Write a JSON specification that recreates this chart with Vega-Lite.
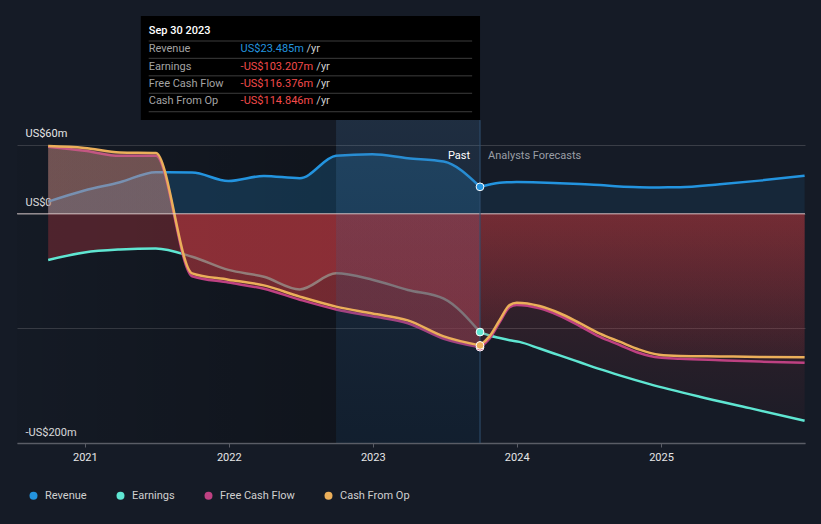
{
  "$schema": "https://vega.github.io/schema/vega-lite/v6.json",
  "width": 788,
  "height": 435,
  "autosize": {"type": "none"},
  "padding": {"left": 17, "top": 8, "right": 16, "bottom": 81},
  "background": "#151b26",
  "config": {"view": {"stroke": null}, "font": "Roboto"},
  "datasets": {
    "main": [
      {"series": "Revenue", "phase": "past", "date": "2020-09-30", "value": 10.6},
      {"series": "Revenue", "phase": "past", "date": "2020-12-31", "value": 20.3},
      {"series": "Revenue", "phase": "past", "date": "2021-03-31", "value": 27.5},
      {"series": "Revenue", "phase": "past", "date": "2021-06-30", "value": 36.2},
      {"series": "Revenue", "phase": "past", "date": "2021-09-30", "value": 36.0},
      {"series": "Revenue", "phase": "past", "date": "2021-12-31", "value": 28.6},
      {"series": "Revenue", "phase": "past", "date": "2022-03-31", "value": 33.0},
      {"series": "Revenue", "phase": "past", "date": "2022-06-30", "value": 31.0},
      {"series": "Revenue", "phase": "past", "date": "2022-09-30", "value": 50.5},
      {"series": "Revenue", "phase": "past", "date": "2022-12-31", "value": 52.0},
      {"series": "Revenue", "phase": "past", "date": "2023-03-31", "value": 48.5},
      {"series": "Revenue", "phase": "past", "date": "2023-06-30", "value": 45.5},
      {"series": "Revenue", "phase": "past", "date": "2023-09-30", "value": 23.485},
      {"series": "Revenue", "phase": "forecast", "date": "2023-09-30", "value": 23.485},
      {"series": "Revenue", "phase": "forecast", "date": "2023-10-24", "value": 25.5},
      {"series": "Revenue", "phase": "forecast", "date": "2023-11-19", "value": 27.1},
      {"series": "Revenue", "phase": "forecast", "date": "2023-12-14", "value": 27.5},
      {"series": "Revenue", "phase": "forecast", "date": "2024-01-01", "value": 27.7},
      {"series": "Revenue", "phase": "forecast", "date": "2024-02-28", "value": 27.3},
      {"series": "Revenue", "phase": "forecast", "date": "2024-04-19", "value": 26.6},
      {"series": "Revenue", "phase": "forecast", "date": "2024-06-09", "value": 25.9},
      {"series": "Revenue", "phase": "forecast", "date": "2024-07-30", "value": 25.1},
      {"series": "Revenue", "phase": "forecast", "date": "2024-09-18", "value": 23.8},
      {"series": "Revenue", "phase": "forecast", "date": "2024-11-07", "value": 23.2},
      {"series": "Revenue", "phase": "forecast", "date": "2024-12-27", "value": 23.0},
      {"series": "Revenue", "phase": "forecast", "date": "2025-02-18", "value": 23.1},
      {"series": "Revenue", "phase": "forecast", "date": "2025-05-30", "value": 25.7},
      {"series": "Revenue", "phase": "forecast", "date": "2025-09-08", "value": 28.9},
      {"series": "Revenue", "phase": "forecast", "date": "2025-12-31", "value": 33.2},

      {"series": "Earnings", "phase": "past", "date": "2020-09-30", "value": -40.3},
      {"series": "Earnings", "phase": "past", "date": "2020-12-31", "value": -33.8},
      {"series": "Earnings", "phase": "past", "date": "2021-03-31", "value": -31.2},
      {"series": "Earnings", "phase": "past", "date": "2021-06-30", "value": -30.3},
      {"series": "Earnings", "phase": "past", "date": "2021-09-30", "value": -37.5},
      {"series": "Earnings", "phase": "past", "date": "2021-12-31", "value": -49.0},
      {"series": "Earnings", "phase": "past", "date": "2022-03-31", "value": -55.0},
      {"series": "Earnings", "phase": "past", "date": "2022-06-30", "value": -66.0},
      {"series": "Earnings", "phase": "past", "date": "2022-09-30", "value": -52.0},
      {"series": "Earnings", "phase": "past", "date": "2022-12-31", "value": -57.5},
      {"series": "Earnings", "phase": "past", "date": "2023-03-31", "value": -66.5},
      {"series": "Earnings", "phase": "past", "date": "2023-06-30", "value": -74.0},
      {"series": "Earnings", "phase": "past", "date": "2023-09-30", "value": -103.207},
      {"series": "Earnings", "phase": "forecast", "date": "2023-09-30", "value": -103.207},
      {"series": "Earnings", "phase": "forecast", "date": "2023-10-24", "value": -106.2},
      {"series": "Earnings", "phase": "forecast", "date": "2023-11-19", "value": -108.4},
      {"series": "Earnings", "phase": "forecast", "date": "2023-12-14", "value": -110.3},
      {"series": "Earnings", "phase": "forecast", "date": "2024-01-08", "value": -111.8},
      {"series": "Earnings", "phase": "forecast", "date": "2024-02-28", "value": -117.6},
      {"series": "Earnings", "phase": "forecast", "date": "2024-04-19", "value": -123.6},
      {"series": "Earnings", "phase": "forecast", "date": "2024-06-09", "value": -129.6},
      {"series": "Earnings", "phase": "forecast", "date": "2024-07-30", "value": -135.6},
      {"series": "Earnings", "phase": "forecast", "date": "2024-09-18", "value": -141.0},
      {"series": "Earnings", "phase": "forecast", "date": "2024-12-03", "value": -148.6},
      {"series": "Earnings", "phase": "forecast", "date": "2025-04-09", "value": -159.6},
      {"series": "Earnings", "phase": "forecast", "date": "2025-08-14", "value": -169.6},
      {"series": "Earnings", "phase": "forecast", "date": "2025-12-31", "value": -180.6},

      {"series": "Free Cash Flow", "phase": "past", "date": "2020-09-30", "value": 58.5},
      {"series": "Free Cash Flow", "phase": "past", "date": "2020-12-31", "value": 55.0},
      {"series": "Free Cash Flow", "phase": "past", "date": "2021-03-31", "value": 50.5},
      {"series": "Free Cash Flow", "phase": "past", "date": "2021-06-30", "value": 50.5},
      {"series": "Free Cash Flow", "phase": "past", "date": "2021-09-30", "value": -54.5},
      {"series": "Free Cash Flow", "phase": "past", "date": "2021-12-31", "value": -60.0},
      {"series": "Free Cash Flow", "phase": "past", "date": "2022-03-31", "value": -65.5},
      {"series": "Free Cash Flow", "phase": "past", "date": "2022-06-30", "value": -75.0},
      {"series": "Free Cash Flow", "phase": "past", "date": "2022-09-30", "value": -83.5},
      {"series": "Free Cash Flow", "phase": "past", "date": "2022-12-31", "value": -89.5},
      {"series": "Free Cash Flow", "phase": "past", "date": "2023-03-31", "value": -95.5},
      {"series": "Free Cash Flow", "phase": "past", "date": "2023-06-30", "value": -109.0},
      {"series": "Free Cash Flow", "phase": "past", "date": "2023-09-30", "value": -116.376},
      {"series": "Free Cash Flow", "phase": "forecast", "date": "2023-09-30", "value": -116.376},
      {"series": "Free Cash Flow", "phase": "forecast", "date": "2023-10-24", "value": -109.0},
      {"series": "Free Cash Flow", "phase": "forecast", "date": "2023-11-19", "value": -94.5},
      {"series": "Free Cash Flow", "phase": "forecast", "date": "2023-12-14", "value": -81.5},
      {"series": "Free Cash Flow", "phase": "forecast", "date": "2024-01-01", "value": -79.5},
      {"series": "Free Cash Flow", "phase": "forecast", "date": "2024-02-28", "value": -82.5},
      {"series": "Free Cash Flow", "phase": "forecast", "date": "2024-04-19", "value": -89.0},
      {"series": "Free Cash Flow", "phase": "forecast", "date": "2024-06-09", "value": -98.0},
      {"series": "Free Cash Flow", "phase": "forecast", "date": "2024-07-30", "value": -107.5},
      {"series": "Free Cash Flow", "phase": "forecast", "date": "2024-09-18", "value": -114.5},
      {"series": "Free Cash Flow", "phase": "forecast", "date": "2024-11-07", "value": -121.5},
      {"series": "Free Cash Flow", "phase": "forecast", "date": "2024-12-27", "value": -125.5},
      {"series": "Free Cash Flow", "phase": "forecast", "date": "2025-02-18", "value": -126.5},
      {"series": "Free Cash Flow", "phase": "forecast", "date": "2025-05-30", "value": -127.8},
      {"series": "Free Cash Flow", "phase": "forecast", "date": "2025-09-08", "value": -129.0},
      {"series": "Free Cash Flow", "phase": "forecast", "date": "2025-12-31", "value": -130.0},

      {"series": "Cash From Op", "phase": "past", "date": "2020-09-30", "value": 59.0},
      {"series": "Cash From Op", "phase": "past", "date": "2020-12-31", "value": 57.4},
      {"series": "Cash From Op", "phase": "past", "date": "2021-03-31", "value": 53.5},
      {"series": "Cash From Op", "phase": "past", "date": "2021-06-30", "value": 53.0},
      {"series": "Cash From Op", "phase": "past", "date": "2021-09-30", "value": -52.0},
      {"series": "Cash From Op", "phase": "past", "date": "2021-12-31", "value": -57.5},
      {"series": "Cash From Op", "phase": "past", "date": "2022-03-31", "value": -62.5},
      {"series": "Cash From Op", "phase": "past", "date": "2022-06-30", "value": -72.3},
      {"series": "Cash From Op", "phase": "past", "date": "2022-09-30", "value": -81.0},
      {"series": "Cash From Op", "phase": "past", "date": "2022-12-31", "value": -87.0},
      {"series": "Cash From Op", "phase": "past", "date": "2023-03-31", "value": -93.0},
      {"series": "Cash From Op", "phase": "past", "date": "2023-06-30", "value": -107.0},
      {"series": "Cash From Op", "phase": "past", "date": "2023-09-30", "value": -114.846},
      {"series": "Cash From Op", "phase": "forecast", "date": "2023-09-30", "value": -114.846},
      {"series": "Cash From Op", "phase": "forecast", "date": "2023-10-24", "value": -107.0},
      {"series": "Cash From Op", "phase": "forecast", "date": "2023-11-19", "value": -92.7},
      {"series": "Cash From Op", "phase": "forecast", "date": "2023-12-14", "value": -79.7},
      {"series": "Cash From Op", "phase": "forecast", "date": "2024-01-01", "value": -77.6},
      {"series": "Cash From Op", "phase": "forecast", "date": "2024-02-28", "value": -80.5},
      {"series": "Cash From Op", "phase": "forecast", "date": "2024-04-19", "value": -86.8},
      {"series": "Cash From Op", "phase": "forecast", "date": "2024-06-09", "value": -95.5},
      {"series": "Cash From Op", "phase": "forecast", "date": "2024-07-30", "value": -104.6},
      {"series": "Cash From Op", "phase": "forecast", "date": "2024-09-18", "value": -111.6},
      {"series": "Cash From Op", "phase": "forecast", "date": "2024-11-07", "value": -118.5},
      {"series": "Cash From Op", "phase": "forecast", "date": "2024-12-27", "value": -123.0},
      {"series": "Cash From Op", "phase": "forecast", "date": "2025-02-18", "value": -124.1},
      {"series": "Cash From Op", "phase": "forecast", "date": "2025-05-30", "value": -124.5},
      {"series": "Cash From Op", "phase": "forecast", "date": "2025-09-08", "value": -124.9},
      {"series": "Cash From Op", "phase": "forecast", "date": "2025-12-31", "value": -125.2}
    ],
    "latest": [
      {"series": "Revenue", "date": "2023-09-30", "value": 23.485},
      {"series": "Earnings", "date": "2023-09-30", "value": -103.207},
      {"series": "Free Cash Flow", "date": "2023-09-30", "value": -116.376},
      {"series": "Cash From Op", "date": "2023-09-30", "value": -114.846}
    ],
    "tip": [
      {"kind": "title", "date": "2021-06-12", "value": 159.4, "text": "Sep 30 2023"},
      {"kind": "label", "date": "2021-06-12", "value": 143.5, "text": "Revenue"},
      {"kind": "label", "date": "2021-06-12", "value": 128.3, "text": "Earnings"},
      {"kind": "label", "date": "2021-06-12", "value": 112.9, "text": "Free Cash Flow"},
      {"kind": "label", "date": "2021-06-12", "value": 98.4, "text": "Cash From Op"},
      {"kind": "pos", "date": "2022-01-31", "value": 143.5, "text": "US$23.485m"},
      {"kind": "neg", "date": "2022-01-31", "value": 128.3, "text": "-US$103.207m"},
      {"kind": "neg", "date": "2022-01-31", "value": 112.9, "text": "-US$116.376m"},
      {"kind": "neg", "date": "2022-01-31", "value": 98.4, "text": "-US$114.846m"},
      {"kind": "unit", "date": "2022-07-17", "value": 143.5, "text": "/yr"},
      {"kind": "unit", "date": "2022-08-11", "value": 128.3, "text": "/yr"},
      {"kind": "unit", "date": "2022-08-11", "value": 112.9, "text": "/yr"},
      {"kind": "unit", "date": "2022-08-11", "value": 98.4, "text": "/yr"}
    ]
  },
  "encoding": {
    "x": {
      "field": "date", "type": "temporal",
      "scale": {"domain": [{"year": 2020, "month": 7, "date": 13}, {"year": 2026, "month": 1, "date": 1}]},
      "axis": {
        "title": null, "grid": false, "format": "%Y",
        "values": [{"year": 2021}, {"year": 2022}, {"year": 2023}, {"year": 2024}, {"year": 2025}],
        "labelColor": "#e6e6e6", "labelFont": "Roboto", "labelFontSize": 11, "labelPadding": 4,
        "tickColor": "#5a5d66", "tickSize": 4, "domainColor": "#5a5d66", "domainWidth": 1.5
      }
    },
    "y": {
      "field": "value", "type": "quantitative",
      "scale": {"domain": [-200, 179.5], "nice": false, "zero": false},
      "axis": {
        "title": null, "values": [60, 0, -100, -200], "domain": false, "ticks": false,
        "labelExpr": "datum.value == 60 ? 'US$60m' : datum.value == 0 ? 'US$0' : datum.value == -200 ? '-US$200m' : ''",
        "labelAlign": "left", "labelPadding": -8, "labelBaseline": "bottom", "labelOffset": -6,
        "labelColor": "#e6e6e6", "labelFont": "Roboto", "labelFontSize": 11,
        "gridColor": "#3a3e47", "gridWidth": 1
      }
    }
  },
  "layer": [
    {
      "data": {"values": [{"date": "2020-07-13", "date2": "2022-09-30", "value": 60, "value2": -200}]},
      "mark": {"type": "rect", "color": {"gradient": "linear", "x1": 0, "y1": 0, "x2": 1, "y2": 0, "stops": [{"offset": 0, "color": "rgba(0,0,0,0.04)"}, {"offset": 1, "color": "rgba(0,0,0,0.25)"}]}},
      "encoding": {"x2": {"field": "date2"}, "y2": {"field": "value2"}}
    },
    {
      "data": {"name": "main"},
      "transform": [{"filter": "datum.series == 'Revenue' && datum.phase == 'past'"}],
      "mark": {"type": "area", "interpolate": "monotone", "color": "#2394df", "opacity": 0.22},
      "encoding": {"y2": {"datum": 0}}
    },
    {
      "data": {"name": "main"},
      "transform": [{"filter": "datum.series == 'Revenue' && datum.phase == 'forecast'"}],
      "mark": {"type": "area", "interpolate": "monotone", "color": "#2394df", "opacity": 0.1},
      "encoding": {"y2": {"datum": 0}}
    },
    {
      "data": {"name": "main"},
      "transform": [{"filter": "datum.series == 'Revenue'"}],
      "mark": {"type": "line", "interpolate": "monotone", "color": "#2394df", "strokeWidth": 2.5},
      "encoding": {"detail": {"field": "phase"}}
    },
    {
      "data": {"name": "main"},
      "transform": [{"filter": "datum.series == 'Earnings' && datum.phase == 'past'"}],
      "mark": {"type": "area", "interpolate": "monotone", "color": "#b4373e", "opacity": 0.37},
      "encoding": {"y2": {"datum": 0}}
    },
    {
      "data": {"name": "main"},
      "transform": [{"filter": "datum.series == 'Earnings' && datum.phase == 'forecast'"}],
      "mark": {"type": "area", "interpolate": "monotone", "color": {"gradient": "linear", "x1": 0, "y1": 0, "x2": 0, "y2": 1, "stops": [{"offset": 0, "color": "rgba(180,55,62,0.26)"}, {"offset": 1, "color": "rgba(180,55,62,0.05)"}]}},
      "encoding": {"y2": {"datum": 0}}
    },
    {
      "data": {"name": "main"},
      "transform": [{"filter": "datum.series == 'Earnings'"}],
      "mark": {"type": "line", "interpolate": "monotone", "color": "#5fe6d2", "strokeWidth": 2.5},
      "encoding": {"detail": {"field": "phase"}}
    },
    {
      "data": {"name": "main"},
      "transform": [{"filter": "datum.series == 'Free Cash Flow' && datum.phase == 'past'"}],
      "mark": {"type": "area", "interpolate": "monotone", "color": {"gradient": "linear", "x1": 0, "y1": 0, "x2": 0, "y2": 1, "stops": [{"offset": 0, "color": "rgba(205,140,130,0.29)"}, {"offset": 0.334, "color": "rgba(205,140,130,0.29)"}, {"offset": 0.336, "color": "rgba(180,55,62,0.37)"}, {"offset": 1, "color": "rgba(180,55,62,0.37)"}]}},
      "encoding": {"y2": {"datum": 0}}
    },
    {
      "data": {"name": "main"},
      "transform": [{"filter": "datum.series == 'Free Cash Flow' && datum.phase == 'forecast'"}],
      "mark": {"type": "area", "interpolate": "monotone", "color": {"gradient": "linear", "x1": 0, "y1": 0, "x2": 0, "y2": 1, "stops": [{"offset": 0, "color": "rgba(180,55,62,0.26)"}, {"offset": 1, "color": "rgba(180,55,62,0.05)"}]}},
      "encoding": {"y2": {"datum": 0}}
    },
    {
      "data": {"name": "main"},
      "transform": [{"filter": "datum.series == 'Free Cash Flow'"}],
      "mark": {"type": "line", "interpolate": "monotone", "color": "#be4182", "strokeWidth": 2.5},
      "encoding": {"detail": {"field": "phase"}}
    },
    {
      "data": {"name": "main"},
      "transform": [{"filter": "datum.series == 'Cash From Op' && datum.phase == 'past'"}],
      "mark": {"type": "area", "interpolate": "monotone", "color": {"gradient": "linear", "x1": 0, "y1": 0, "x2": 0, "y2": 1, "stops": [{"offset": 0, "color": "rgba(205,140,130,0.29)"}, {"offset": 0.338, "color": "rgba(205,140,130,0.29)"}, {"offset": 0.340, "color": "rgba(180,55,62,0.37)"}, {"offset": 1, "color": "rgba(180,55,62,0.37)"}]}},
      "encoding": {"y2": {"datum": 0}}
    },
    {
      "data": {"name": "main"},
      "transform": [{"filter": "datum.series == 'Cash From Op' && datum.phase == 'forecast'"}],
      "mark": {"type": "area", "interpolate": "monotone", "color": {"gradient": "linear", "x1": 0, "y1": 0, "x2": 0, "y2": 1, "stops": [{"offset": 0, "color": "rgba(180,55,62,0.26)"}, {"offset": 1, "color": "rgba(180,55,62,0.05)"}]}},
      "encoding": {"y2": {"datum": 0}}
    },
    {
      "data": {"values": [{"date": "2022-09-30", "date2": "2023-09-30", "value": 81.7, "value2": -200}]},
      "mark": {"type": "rect", "color": {"gradient": "linear", "x1": 0, "y1": 0, "x2": 0, "y2": 1, "stops": [{"offset": 0, "color": "rgba(70,120,170,0.2)"}, {"offset": 1, "color": "rgba(0,50,90,0.16)"}]}},
      "encoding": {"x2": {"field": "date2"}, "y2": {"field": "value2"}}
    },
    {
      "data": {"name": "main"},
      "transform": [{"filter": "datum.series == 'Cash From Op'"}],
      "mark": {"type": "line", "interpolate": "monotone", "color": "#ebaf5a", "strokeWidth": 2.5},
      "encoding": {"detail": {"field": "phase"}}
    },
    {
      "data": {"values": [{"date": "2020-07-13", "date2": "2026-01-01", "value": 0}]},
      "mark": {"type": "rule", "color": "#e6d6d6", "strokeWidth": 1.2, "opacity": 0.8},
      "encoding": {"x2": {"field": "date2"}}
    },
    {
      "data": {"values": [{"date": "2023-09-30", "value": 81.7, "value2": -200}]},
      "mark": {"type": "rule", "color": "#2f4f70", "strokeWidth": 1},
      "encoding": {"y2": {"field": "value2"}}
    },
    {
      "data": {"name": "latest"},
      "mark": {"type": "point", "filled": true, "size": 60, "opacity": 1, "stroke": "#ffffff", "strokeWidth": 1},
      "encoding": {
        "color": {
          "field": "series", "type": "nominal",
          "scale": {"domain": ["Revenue", "Earnings", "Free Cash Flow", "Cash From Op"], "range": ["#2394df", "#5fe6d2", "#be4182", "#ebaf5a"]},
          "legend": {
            "title": null, "orient": "none", "legendX": 11, "legendY": 482, "direction": "horizontal",
            "symbolType": "circle", "symbolSize": 64, "symbolStrokeWidth": 0, "symbolOpacity": 1,
            "labelColor": "#d0d0d0", "labelFont": "Roboto", "labelFontSize": 11, "labelOffset": 6,
            "columnPadding": 28
          }
        }
      }
    },
    {
      "data": {"values": [{"date": "2021-05-23", "date2": "2023-09-30", "value": 172.5, "value2": 81.7}]},
      "mark": {"type": "rect", "color": "#000000", "opacity": 1},
      "encoding": {"x2": {"field": "date2"}, "y2": {"field": "value2"}}
    },
    {
      "data": {"values": [
        {"date": "2021-06-12", "date2": "2023-09-10", "value": 150.7},
        {"date": "2021-06-12", "date2": "2023-09-10", "value": 135.6},
        {"date": "2021-06-12", "date2": "2023-09-10", "value": 120.3},
        {"date": "2021-06-12", "date2": "2023-09-10", "value": 105.1},
        {"date": "2021-06-12", "date2": "2023-09-10", "value": 89.0}
      ]},
      "mark": {"type": "rule", "color": "#3d3d3d", "strokeWidth": 1},
      "encoding": {"x2": {"field": "date2"}}
    },
    {
      "data": {"name": "tip"},
      "transform": [{"filter": "datum.kind == 'title'"}],
      "mark": {"type": "text", "align": "left", "baseline": "middle", "color": "#ffffff", "font": "Roboto", "fontSize": 11, "fontWeight": 500},
      "encoding": {"text": {"field": "text"}}
    },
    {
      "data": {"name": "tip"},
      "transform": [{"filter": "datum.kind == 'label'"}],
      "mark": {"type": "text", "align": "left", "baseline": "middle", "color": "#a3a3a3", "font": "Roboto", "fontSize": 11},
      "encoding": {"text": {"field": "text"}}
    },
    {
      "data": {"name": "tip"},
      "transform": [{"filter": "datum.kind == 'pos'"}],
      "mark": {"type": "text", "align": "left", "baseline": "middle", "color": "#2394df", "font": "Roboto", "fontSize": 11},
      "encoding": {"text": {"field": "text"}}
    },
    {
      "data": {"name": "tip"},
      "transform": [{"filter": "datum.kind == 'neg'"}],
      "mark": {"type": "text", "align": "left", "baseline": "middle", "color": "#f24b4b", "font": "Roboto", "fontSize": 11},
      "encoding": {"text": {"field": "text"}}
    },
    {
      "data": {"name": "tip"},
      "transform": [{"filter": "datum.kind == 'unit'"}],
      "mark": {"type": "text", "align": "left", "baseline": "middle", "color": "#cfcfcf", "font": "Roboto", "fontSize": 11},
      "encoding": {"text": {"field": "text"}}
    },
    {
      "data": {"values": [{"date": "2023-09-30", "value": 50.4, "text": "Past"}]},
      "mark": {"type": "text", "align": "right", "baseline": "middle", "dx": -10, "color": "#ffffff", "font": "Roboto", "fontSize": 11},
      "encoding": {"text": {"field": "text"}}
    },
    {
      "data": {"values": [{"date": "2023-09-30", "value": 50.4, "text": "Analysts Forecasts"}]},
      "mark": {"type": "text", "align": "left", "baseline": "middle", "dx": 8, "color": "#9a9ea5", "font": "Roboto", "fontSize": 11},
      "encoding": {"text": {"field": "text"}}
    }
  ]
}
